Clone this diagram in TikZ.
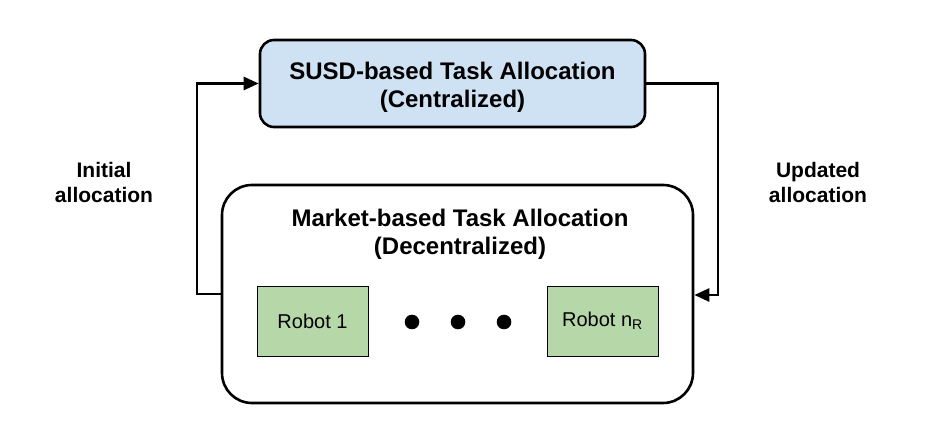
\documentclass[tikz,border=0pt]{standalone}
\usepackage{fontspec}
\setmainfont{Liberation Sans}
\usetikzlibrary{arrows.meta}
\definecolor{boxblue}{HTML}{CFE2F3}
\definecolor{robotgreen}{HTML}{B6D7A8}
\tikzset{
	thickline/.style={line width=2.6pt},
	titletext/.style={font=\bfseries\fontsize{24}{28}\selectfont, align=center},
	sidetext/.style={font=\bfseries\fontsize{21}{25}\selectfont, align=center},
	robotbox/.style={draw, line width=0.8pt, fill=robotgreen, minimum width=111pt, minimum height=70pt, inner sep=0pt, font=\fontsize{20}{22}\selectfont},
}
\begin{document}
\begin{tikzpicture}[x=1pt, y=-1pt, >={Triangle[length=15pt,width=13pt]}]
	\useasboundingbox (0,0) rectangle (932,443);
	% boxes
	\node[thickline, draw, fill=boxblue, rounded corners=14pt, minimum width=385pt, minimum height=87pt] (susd) at (452.5,83.5) {};
	\node[titletext] (susdtitle) at (452.5,87) {SUSD-based Task Allocation\\(Centralized)};
	\node[thickline, draw, fill=white, rounded corners=30pt, minimum width=471pt, minimum height=218pt] (market) at (457.5,294) {};
	\node[titletext] (markettitle) at (460,234) {Market-based Task Allocation\\(Decentralized)};
	\node[robotbox] (robot1) at (312.5,321) {Robot 1};
	\node[robotbox] (robotn) at (602.5,321) {Robot n\textsubscript{R}};
	% dots
	\foreach \x/\n in {412/dotA, 458/dotB, 504/dotC}
		\fill (\x,322) circle (7.3pt) coordinate (\n);
	% feedback loop
	\coordinate (lturn) at (197,294);
	\coordinate (rturn) at (718,295);
	\draw[thickline, ->] (lturn -| market.west) -- (lturn) |- (susd.west);
	\draw[thickline, ->] (susd.east) -| (rturn) -- (rturn -| market.east);
	% labels
	\node[sidetext] (initlabel) at (104,182) {Initial\\allocation};
	\node[sidetext] (updlabel) at (818,182) {Updated\\allocation};
\end{tikzpicture}
\end{document}
